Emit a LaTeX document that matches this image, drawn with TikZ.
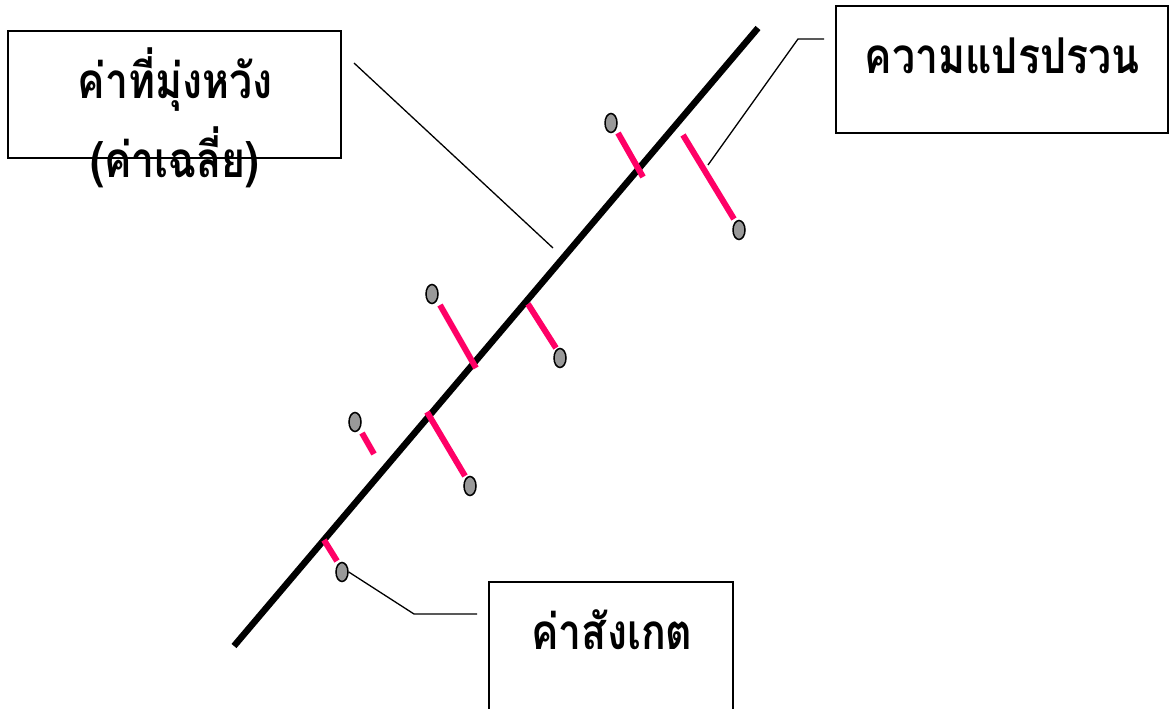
\documentclass[tikz,border=0pt]{standalone}
\usepackage{fontspec}
\usepackage{graphicx}
\usetikzlibrary{shapes.geometric}
\newfontfamily\thaifont[Script=Thai]{Loma}
\definecolor{resid}{HTML}{FF0066}
\definecolor{ptgray}{HTML}{999999}
\newcommand{\thlbl}[1]{\scalebox{1.08}[1.3]{#1}}
\tikzset{
  box/.style={draw=black, line width=1.5pt, inner sep=0pt},
  lbl/.style={font=\thaifont\bfseries\fontsize{38}{44}\selectfont, inner sep=0pt},
  pt/.style={ellipse, draw=black, fill=ptgray, line width=1.5pt, minimum width=12pt, minimum height=19pt, inner sep=0pt},
  residual/.style={draw=resid, line width=6pt},
  leader/.style={draw=black, line width=1.3pt},
  regline/.style={draw=black, line width=6.5pt}
}
\begin{document}
\begin{tikzpicture}[x=1pt,y=-1pt]
\useasboundingbox (0,0) rectangle (1173,709);
% regression line
\coordinate (L1) at (234,646);
\coordinate (L2) at (758,28);
\draw[regline] (L1) -- (L2);
% boxes
\node[box, minimum width=333pt, minimum height=127pt] (boxA) at (174.5,94.5) {};
\node[box, minimum width=332pt, minimum height=127pt] (boxB) at (1002,69.5) {};
\node[box, minimum width=244pt, minimum height=150pt] (boxC) at (611,657) {};
% labels
\node[lbl] (tA1) at (175,80) {\thlbl{ค่าที่มุ่งหวัง}};
\node[lbl] (tA2) at (175,157) {\thlbl{(ค่าเฉลี่ย)}};
\node[lbl] (tB) at (1002,56) {\thlbl{ความแปรปรวน}};
\node[lbl] (tC) at (612,630) {\thlbl{ค่าสังเกต}};
% residuals
\coordinate (r1a) at (618,133); \coordinate (r1b) at (643,177);
\coordinate (r2a) at (683,135); \coordinate (r2b) at (734,219);
\coordinate (r3a) at (440,305); \coordinate (r3b) at (476,368);
\coordinate (r4a) at (528,304); \coordinate (r4b) at (556,348);
\coordinate (r5a) at (362,433); \coordinate (r5b) at (374,454);
\coordinate (r6a) at (427,412); \coordinate (r6b) at (465,476);
\coordinate (r7a) at (324,540); \coordinate (r7b) at (337,561);
\foreach \i in {1,...,7} {\draw[residual] (r\i a) -- (r\i b);}
% points
\node[pt] (p1) at (611,123) {};
\node[pt] (p2) at (739,230) {};
\node[pt] (p3) at (432,294) {};
\node[pt] (p4) at (560,358) {};
\node[pt] (p5) at (355,422) {};
\node[pt] (p6) at (470,486) {};
\node[pt] (p7) at (342,572) {};
% leaders
\coordinate (a1) at (354,63); \coordinate (a2) at (553,248);
\draw[leader] (a1) -- (a2);
\coordinate (b1) at (824,39); \coordinate (b2) at (798,39); \coordinate (b3) at (708,165);
\draw[leader] (b1) -- (b2) -- (b3);
\coordinate (c2) at (414,614); \coordinate (c3) at (477,614);
\draw[leader] (p7.east) -- (c2) -- (c3);
\end{tikzpicture}
\end{document}
